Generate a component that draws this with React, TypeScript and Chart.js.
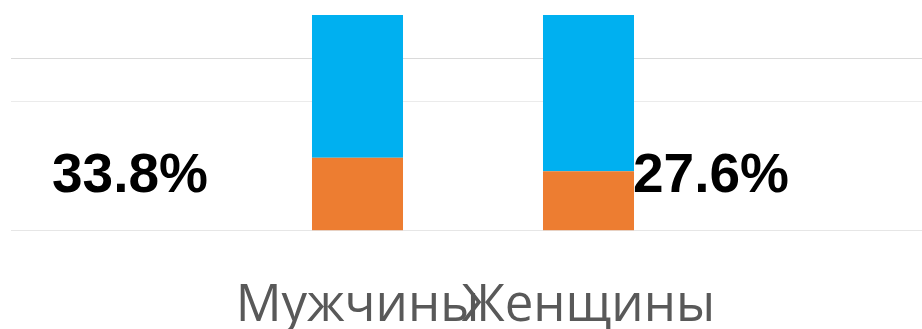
import React, { useEffect, useRef } from "react";
import { Chart, registerables } from "chart.js";

Chart.register(...registerables);

const categories = ["", "Мужчины", "Женщины", ""];
const orangeValues = [null, 33.8, 27.6, null];
const blueValues = [null, 66.2, 72.4, null];
const labelTexts = ["33.8%", "27.6%"];

const gridColors: Record<number, string> = {
  0: "#e6e6e6",
  60: "#ebebeb",
  80: "#dadada",
};

const labelPlugin = {
  id: "customLabels",
  afterDatasetsDraw(chart: any) {
    const ctx = chart.ctx;
    const xs = chart.scales.x;
    const ys = chart.scales.y;
    const meta = chart.getDatasetMeta(0);
    ctx.save();
    ctx.font = "bold 55px 'Liberation Sans', Arial, sans-serif";
    ctx.fillStyle = "#000000";
    ctx.textBaseline = "alphabetic";
    const yBase = ys.getPixelForValue(18);
    ctx.textAlign = "center";
    ctx.fillText(labelTexts[0], xs.getPixelForValue(0) + 3.5, yBase);
    const bar = meta.data[2];
    ctx.textAlign = "left";
    ctx.fillText(labelTexts[1], bar.x + bar.width / 2 - 1, yBase);
    ctx.restore();
  },
};

export default function App() {
  const ref = useRef<HTMLCanvasElement>(null);
  useEffect(() => {
    if (!ref.current) return;
    const chart = new Chart(ref.current, {
      type: "bar",
      data: {
        labels: categories,
        datasets: [
          {
            data: orangeValues as any,
            backgroundColor: "#ED7D31",
            categoryPercentage: 1,
            barPercentage: 0.394,
          },
          {
            data: blueValues as any,
            backgroundColor: "#00B0F0",
            categoryPercentage: 1,
            barPercentage: 0.394,
          },
        ],
      },
      options: {
        responsive: false,
        animation: false,
        layout: { padding: { left: 3, top: 7, right: 0, bottom: 0 } },
        plugins: {
          legend: { display: false },
          tooltip: { enabled: false },
        },
        scales: {
          x: {
            stacked: true,
            grid: { display: false, drawTicks: false },
            border: { display: false },
            ticks: {
              color: "#595959",
              font: { family: "'Open Sans', sans-serif", size: 51 },
              padding: 45,
              maxRotation: 0,
              autoSkip: false,
            },
          },
          y: {
            stacked: true,
            min: 0,
            max: 100,
            ticks: { display: false, stepSize: 20 },
            border: { display: false },
            grid: {
              drawTicks: false,
              lineWidth: 1,
              color: (c: any) => gridColors[c.tick?.value] ?? "rgba(0,0,0,0)",
            },
          },
        },
      },
      plugins: [labelPlugin],
    });
    return () => chart.destroy();
  }, []);
  return (
    <canvas
      ref={ref}
      width={927}
      height={374}
      style={{ display: "block", position: "fixed", left: 8, top: 8 }}
    />
  );
}
